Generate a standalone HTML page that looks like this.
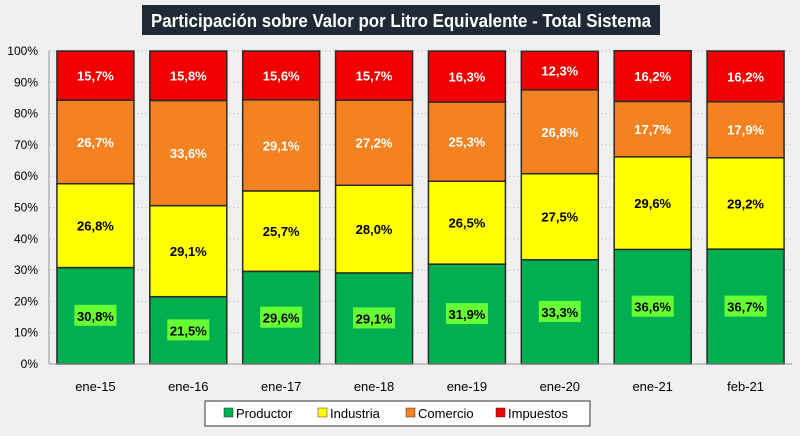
<!DOCTYPE html>
<html><head><meta charset="utf-8"><style>
body{margin:0;width:800px;height:431px;background:#f0f0f0;overflow:hidden;font-family:"Liberation Sans",sans-serif}
</style></head><body>
<svg width="800" height="431" xmlns="http://www.w3.org/2000/svg" id="chart">
<rect x="0" y="0" width="800" height="431" fill="#f0f0f0"/>
<rect x="142" y="5" width="518" height="30" fill="#1f2a36"/>
<text x="401" y="27" text-anchor="middle" font-size="18" font-weight="bold" fill="#fff" textLength="500" lengthAdjust="spacingAndGlyphs">Participación sobre Valor por Litro Equivalente - Total Sistema</text>
<g id="grid"></g><g id="bars"></g><g id="axes"></g>
<g>
<rect x="205" y="401" width="385" height="25" fill="#fff" stroke="#333"/>
<g id="legend"></g>
</g>
</svg>
<script>
const categories=["ene-15","ene-16","ene-17","ene-18","ene-19","ene-20","ene-21","feb-21"];
const productor=[30.8,21.5,29.6,29.1,31.9,33.3,36.6,36.7];
const industria=[26.8,29.1,25.7,28.0,26.5,27.5,29.6,29.2];
const comercio=[26.7,33.6,29.1,27.2,25.3,26.8,17.7,17.9];
const impuestos=[15.7,15.8,15.6,15.7,16.3,12.3,16.2,16.2];
const seriesNames=["Productor","Industria","Comercio","Impuestos"];
const yTicks=[0,10,20,30,40,50,60,70,80,90,100];
const series=[productor,industria,comercio,impuestos];
const colors=["#00b050","#ffff00","#f58220","#f00000"];
const textColors=["#000","#000","#fff","#fff"];
const NS="http://www.w3.org/2000/svg";
const L=49,R=792,T=51,B=364;
const step=(R-L)/categories.length, bw=77;
function y(v){return B-(v/100)*(B-T);}
function x(i){return L+step*i+step/2;}
function mk(t,a,p){const e=document.createElementNS(NS,t);for(const k in a)e.setAttribute(k,a[k]);p.appendChild(e);return e;}
const grid=document.getElementById('grid'),bars=document.getElementById('bars'),axes=document.getElementById('axes'),leg=document.getElementById('legend');
yTicks.forEach(t=>{
  const l=mk('line',{x1:L,x2:R,y1:y(t),y2:y(t),stroke:'#d0d0d0','stroke-dasharray':'2,2'},grid);
  
  
  const tx=mk('text',{x:38,y:y(t)+4,'text-anchor':'end','font-size':12,fill:'#000'},axes);
  tx.textContent=t+'%';
  
  
});
mk('line',{x1:L,x2:L,y1:T,y2:B,stroke:'#999'},axes);
mk('line',{x1:L,x2:R,y1:B,y2:B,stroke:'#999'},axes);
categories.forEach((c,i)=>{
  let cum=0;
  series.forEach((s,k)=>{
    const v=s[i];
    const r=mk('rect',{x:x(i)-bw/2,y:y(cum+v),width:bw,height:y(cum)-y(cum+v),fill:colors[k],stroke:'#2a2a2a','stroke-width':1.5},bars);
    
    
    const cy=(y(cum)+y(cum+v))/2;
    const lab=v.toFixed(1).replace('.',',')+'%';
    if(k===0){const bg=mk('rect',{x:x(i)-21,y:cy-11,width:42,height:21,fill:'#66ff33'},bars);
      
      }
    const t=mk('text',{x:x(i),y:cy+5,'text-anchor':'middle','font-size':13,'font-weight':'bold',fill:textColors[k]},bars);
    t.textContent=lab;
    
    
    cum+=v;
  });
  const xt=mk('text',{x:x(i),y:391,'text-anchor':'middle','font-size':13,fill:'#000'},axes);
  xt.textContent=c;
  
  
});
const lx=[224,318,406,496];
seriesNames.forEach((n,k)=>{
  const sw=mk('rect',{x:lx[k],y:408,width:9,height:9,fill:colors[k],stroke:'#333','stroke-width':0.5},leg);
  
  
  const t=mk('text',{x:lx[k]+12,y:418,'font-size':13,fill:'#000'},leg);
  t.textContent=n;
  
  
});
</script>
</body></html>
